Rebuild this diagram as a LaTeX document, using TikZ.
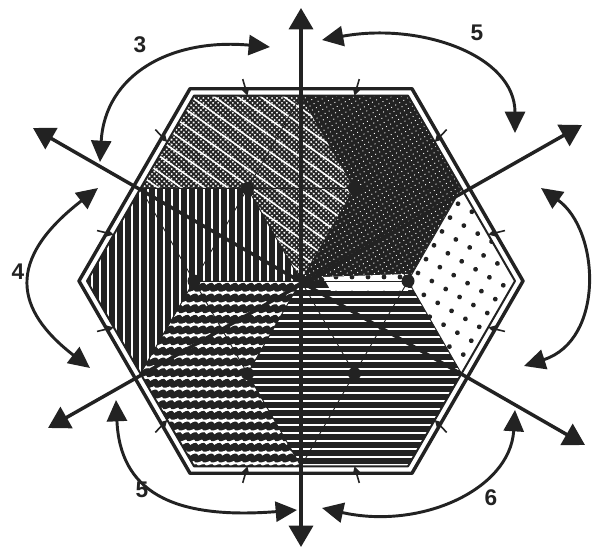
\documentclass[tikz,border=0pt]{standalone}
\usepackage{fontspec}
\setmainfont{Liberation Sans}
\usetikzlibrary{arrows.meta,calc,patterns,patterns.meta}
\definecolor{ink}{HTML}{222222}
\pgfdeclarepatternformonly{zigzag}{\pgfpoint{-1pt}{-1pt}}{\pgfpoint{7pt}{9pt}}{\pgfpoint{6pt}{8pt}}{%
  \pgfsetlinewidth{4.4pt}%
  \pgfpathmoveto{\pgfpoint{-1pt}{3.6pt}}%
  \pgfpathlineto{\pgfpoint{0pt}{4pt}}%
  \pgfpathlineto{\pgfpoint{2.5pt}{5.5pt}}%
  \pgfpathlineto{\pgfpoint{3.5pt}{3pt}}%
  \pgfpathlineto{\pgfpoint{6pt}{4pt}}%
  \pgfpathlineto{\pgfpoint{8.5pt}{5.5pt}}%
  \pgfusepath{stroke}%
}
\tikzset{
  axisline/.style={ink,line width=2.6pt,{Triangle[length=16pt,width=18pt]}-{Triangle[length=16pt,width=18pt]}},
  turnarrow/.style={ink,line width=2.2pt,{Triangle[length=16pt,width=15pt]}-{Triangle[length=16pt,width=15pt]}},
  lab/.style={font=\fontsize{17}{17}\selectfont\bfseries,text=ink,inner sep=0pt},
  grid/.style={ink,line width=0.7pt},
  bordertick/.style={ink,line width=1.2pt,-{Triangle[length=5pt,width=5pt]}},
  blob/.style={fill=ink}
}
\begin{document}
\begin{tikzpicture}[x=0.75pt,y=-0.75pt,line join=round]
\fill[white] (0,0) rectangle (604,549);
\useasboundingbox (0,0) rectangle (604,549);
\coordinate (C) at (301,281);
\foreach \a/\n in {0/R,60/BR,120/BL,180/L,240/TL,300/TR}{
  \coordinate (O\n) at ($(C)+(\a:222)$);
  \coordinate (I\n) at ($(C)+(\a:214)$);
  \coordinate (D\n) at ($(C)+(\a:107)$);
}
\coordinate (Mtop) at ($(ITL)!0.5!(ITR)$);
\coordinate (MUR) at ($(ITR)!0.5!(IR)$);
\coordinate (MLR) at ($(IR)!0.5!(IBR)$);
\coordinate (Mbot) at ($(IBR)!0.5!(IBL)$);
\coordinate (MLL) at ($(IBL)!0.5!(IL)$);
\coordinate (MUL) at ($(IL)!0.5!(ITL)$);
\def\pTL{(ITL)--(Mtop)--(DTR)--(C)--(DTL)--(MUL)--cycle}
\def\pTR{(ITR)--(MUR)--(DR)--(C)--(DTR)--(Mtop)--cycle}
\def\pR{(IR)--(MLR)--(DR)--(MUR)--cycle}
\def\pS{($(C)+(22,-4)$)--($(DR)+(0,-7)$)--($(DR)+(0,10)$)--($(C)+(30,10)$)--cycle}
\def\pBR{(IBR)--(Mbot)--(DBL)--(C)--(DR)--(MLR)--cycle}
\def\pBL{(IBL)--(MLL)--(DL)--(C)--(DBL)--(Mbot)--cycle}
\def\pL{(IL)--(MUL)--(DTL)--(C)--(DL)--(MLL)--cycle}
% top-left: cross-hatching
\path[pattern={Lines[angle=45,distance=2.6pt,line width=1.3pt]},pattern color=ink] \pTL;
\path[pattern={Lines[angle=-45,distance=2.6pt,line width=1.3pt]},pattern color=ink] \pTL;
\path[pattern={Lines[angle=-35,distance=10pt,line width=1.2pt]},pattern color=white] \pTL;
% top-right: dark speckled
\fill[ink] \pTR;
\path[pattern={Dots[distance=3.5pt,radius=0.5pt,angle=30]},pattern color=white] \pTR;
% right: dots
\fill[white] \pR;
\path[pattern={Dots[distance=12pt,radius=1.8pt,angle=-30]},pattern color=ink] \pR;
% bottom-right: horizontal lines
\path[pattern={Lines[angle=0,distance=6pt,line width=4.2pt]},pattern color=ink] \pBR;
% sliver of the dotted region
\fill[white] \pS;
\path[pattern={Dots[distance=12pt,radius=1.8pt,angle=0]},pattern color=ink] \pS;
% bottom-left: wavy lines
\path[pattern=zigzag,pattern color=ink] \pBL;
% left: vertical lines
\path[pattern={Lines[angle=90,distance=6pt,line width=4pt]},pattern color=ink] \pL;
% structure lines
\draw[grid] (Mtop)--(DTL)--(MUL) (Mtop)--(DTR)--(MUR) (MUR)--(DR)--(MLR)
  (MLR)--(DBR)--(Mbot) (Mbot)--(DBL)--(MLL) (MLL)--(DL)--(MUL);
\draw[grid] (DR)--(DBR)--(DBL)--(DL)--(DTL)--(DTR)--cycle;
\foreach \n in {R,BR,BL,L,TL,TR}{\draw[grid] (C)--(D\n);}
\foreach \n in {R,BR,BL,L,TL,TR}{\fill[blob] (D\n) circle (6.5);}
% double border
\draw[ink,line width=2.6pt] (OR)--(OBR)--(OBL)--(OL)--(OTL)--(OTR)--cycle;
\draw[ink,line width=1.5pt] (IR)--(IBR)--(IBL)--(IL)--(ITL)--(ITR)--cycle;
\foreach \p/\q in {TL/TR,TR/R,R/BR,BR/BL,BL/L,L/TL}{
  \foreach \f in {0.25,0.75}{
    \draw[bordertick] ($(C)!1.05!($(O\p)!\f!(O\q)$)$) -- ($(I\p)!\f!(I\q)$);
  }
}
% axes
\coordinate (Atop) at (301,8);
\coordinate (Abot) at (301,547);
\coordinate (AUL) at (33,128);
\coordinate (ALR) at (585,445);
\coordinate (ALL) at (48,428);
\coordinate (AUR) at (582,125);
\draw[axisline] (Abot) -- (Atop);
\draw[axisline] (AUL) -- (ALR);
\draw[axisline] (ALL) -- (AUR);
% turning arrows
\coordinate (a1) at (270,47);  \coordinate (a2) at (100,162);
\coordinate (b1) at (322,40);  \coordinate (b2) at (515,133);
\coordinate (c1) at (541,188); \coordinate (c2) at (524,366);
\coordinate (d1) at (98,188);  \coordinate (d2) at (90,368);
\coordinate (e1) at (116,400); \coordinate (e2) at (297,510);
\coordinate (f1) at (515,410); \coordinate (f2) at (322,508);
\draw[turnarrow] (a1) .. controls (170,38) and (105,75) .. (a2);
\draw[turnarrow] (b1) .. controls (420,22) and (515,55) .. (b2);
\draw[turnarrow] (c1) .. controls (600,230) and (605,340) .. (c2);
\draw[turnarrow] (d1) .. controls (5,260) and (15,310) .. (d2);
\draw[turnarrow] (e1) .. controls (120,490) and (170,520) .. (e2);
\draw[turnarrow] (f1) .. controls (510,490) and (420,530) .. (f2);
% labels
\node[lab] (l3) at (140,45) {3};
\node[lab] (l5a) at (477,33) {5};
\node[lab] (l4) at (18,272) {4};
\node[lab] (l5b) at (142,490) {5};
\node[lab] (l6) at (491,498) {6};
\end{tikzpicture}
\end{document}
